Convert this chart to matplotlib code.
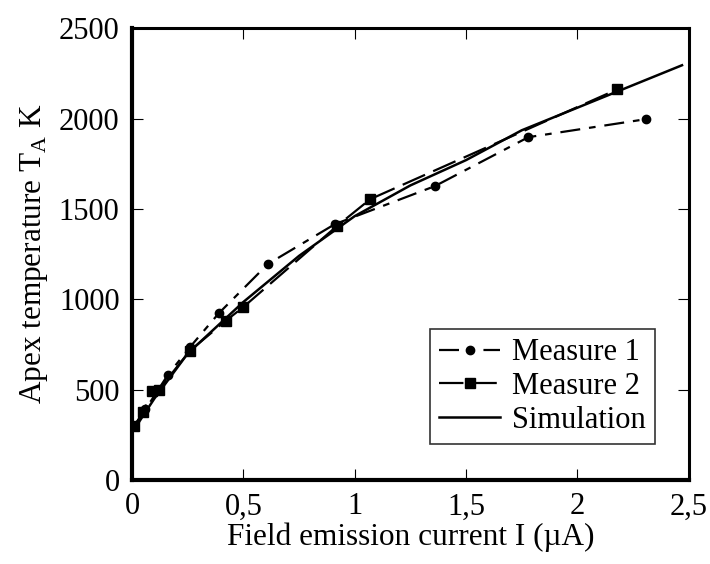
import matplotlib
matplotlib.use("Agg")
import matplotlib.pyplot as plt

plt.rcParams['font.family'] = ['Liberation Serif', 'DejaVu Serif']
plt.rcParams['mathtext.fontset'] = 'custom'
plt.rcParams['mathtext.rm'] = 'Liberation Serif'

# Measured and simulated apex temperature vs field emission current
m1_current = [0.01, 0.06, 0.16, 0.26, 0.39, 0.61, 0.91, 1.36, 1.78, 2.31]
m1_temp = [300, 390, 580, 735, 923, 1195, 1415, 1626, 1897, 1997]

m2_current = [0.01, 0.05, 0.09, 0.12, 0.26, 0.42, 0.50, 0.92, 1.07, 2.18]
m2_temp = [300, 375, 490, 500, 715, 880, 957, 1405, 1554, 2162]

sim_current = [0.02, 0.1, 0.25, 0.5, 0.75, 1.0, 1.25, 1.5, 1.75, 2.0, 2.25, 2.47]
sim_temp = [300, 450, 700, 985, 1240, 1460, 1630, 1770, 1935, 2060, 2185, 2295]

x_ticks = [0, 0.5, 1, 1.5, 2, 2.5]
x_tick_labels = ["0", "0,5", "1", "1,5", "2", "2,5"]
y_ticks = [0, 500, 1000, 1500, 2000, 2500]

fig = plt.figure(figsize=(7.1, 5.64), dpi=100)
ax = fig.add_axes([0.186, 0.149, 0.784, 0.801])

ax.plot(m1_current, m1_temp, color="black", lw=1.6, marker="o", markersize=6,
        dashes=(9, 4, 3, 4), label="Measure 1")
ax.plot(m2_current, m2_temp, color="black", lw=1.6, marker="s", markersize=7,
        dashes=(11, 4), label="Measure 2")
ax.plot(sim_current, sim_temp, color="black", lw=1.8, label="Simulation")

ax.set_xlim(0, 2.5)
ax.set_ylim(0, 2500)
ax.set_xticks(x_ticks)
ax.set_xticklabels(x_tick_labels)
ax.set_yticks(y_ticks)
ax.tick_params(direction="in", length=8, width=0.8, labelsize=22, pad=9,
               top=True, right=True)

for side in ["left", "bottom"]:
    ax.spines[side].set_linewidth(3)
for side in ["top", "right"]:
    ax.spines[side].set_linewidth(2.2)

ax.set_xlabel("Field emission current I (\u00b5A)", fontsize=22.5, labelpad=1)
ax.set_ylabel("Apex temperature T$_\\mathrm{A}$ K", fontsize=22.5, labelpad=6)

leg = ax.legend(loc="lower right", bbox_to_anchor=(0.94, 0.08), fontsize=22,
                frameon=True, fancybox=False, edgecolor="black",
                handlelength=2.0, handletextpad=0.4, borderpad=0.3,
                labelspacing=0.15, borderaxespad=0)
leg.get_frame().set_linewidth(1.2)

fig.savefig("out.png", dpi=100)
